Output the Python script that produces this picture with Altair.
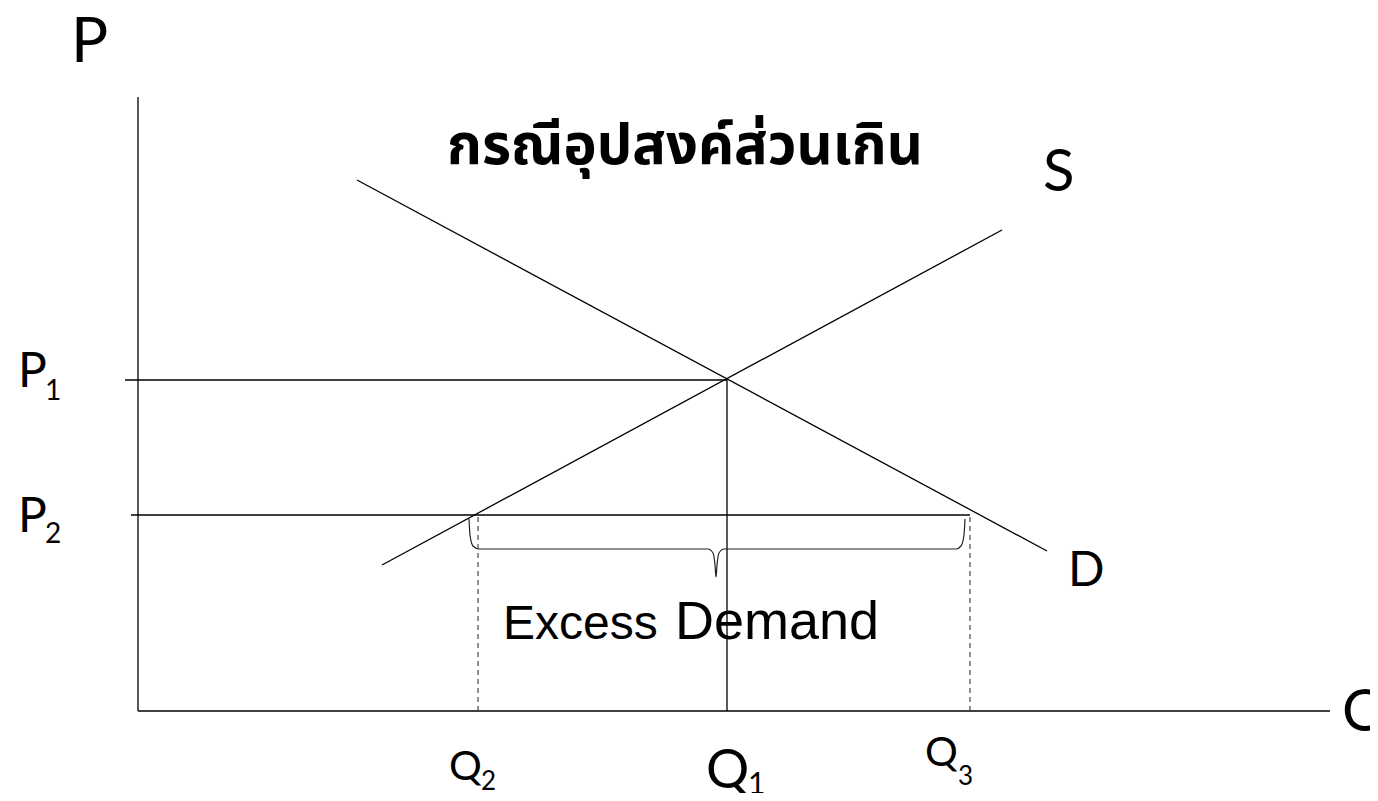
import altair as alt
import pandas as pd

# Economic coordinates (Q, P)
seg_x1 = [0.0, 0.0, 2.44, 2.19, -0.13, -0.07, 5.89]
seg_y1 = [0.0, 0.0, 1.46, 5.31, 3.31, 1.96, 0.0]
seg_x2 = [0.0, 11.92, 8.64, 9.09, 5.89, 8.32, 5.89]
seg_y2 = [6.14, 0.0, 4.81, 1.60, 3.31, 1.96, 3.31]

dash_x1 = [3.40, 8.32]
dash_y1 = [0.0, 0.0]
dash_x2 = [3.40, 8.32]
dash_y2 = [1.96, 1.96]

brace_q = [3.31, 3.32, 3.35, 3.41, 5.70, 5.75, 5.77, 5.78, 5.79, 5.81, 5.86, 8.18, 8.23, 8.26, 8.27]
brace_p = [1.92, 1.76, 1.65, 1.62, 1.62, 1.58, 1.46, 1.34, 1.46, 1.58, 1.62, 1.62, 1.65, 1.76, 1.92]

lab_text = ["P", "P", "1", "P", "2", "Q", "2", "Q", "1", "Q", "3", "Q", "S", "D"]
lab_q = [-0.67, -1.20, -0.93, -1.20, -0.93, 3.11, 3.43, 5.68, 6.10, 7.87, 8.20, 12.04, 9.05, 9.30]
lab_p = [6.49, 3.24, 3.11, 1.79, 1.68, -0.69, -0.79, -0.77, -0.83, -0.55, -0.74, -0.20, 5.20, 1.25]
lab_size = [62, 48, 28, 48, 28, 41, 26, 54, 30, 41, 26, 58, 58, 48]

title_text = ["กรณีอุปสงค์ส่วนเกิน"]
title_q = [3.09]
title_p = [5.47]

ed_text = ["Excess", "Demand"]
ed_q = [3.65, 5.37]
ed_p = [0.72, 0.72]
ed_size = [48, 54]

xs = alt.Scale(domain=[-1.30, 12.32], nice=False, zero=False)
ys = alt.Scale(domain=[-0.82, 7.03], nice=False, zero=False)
X = lambda f: alt.X(f, type="quantitative", scale=xs, axis=None)
Y = lambda f: alt.Y(f, type="quantitative", scale=ys, axis=None)

segs = pd.DataFrame({"x": seg_x1, "y": seg_y1, "x2": seg_x2, "y2": seg_y2})
dashes = pd.DataFrame({"x": dash_x1, "y": dash_y1, "x2": dash_x2, "y2": dash_y2})
brace = pd.DataFrame({"q": brace_q, "p": brace_p, "o": list(range(len(brace_q)))})
labs = pd.DataFrame({"t": lab_text, "q": lab_q, "p": lab_p, "s": lab_size})
title = pd.DataFrame({"t": title_text, "q": title_q, "p": title_p})
ed = pd.DataFrame({"t": ed_text, "q": ed_q, "p": ed_p, "s": ed_size})

solid = alt.Chart(segs).mark_rule(color="black", strokeWidth=1.3).encode(
    x=X("x"), y=Y("y"), x2="x2", y2="y2")
dashed = alt.Chart(dashes).mark_rule(color="#222222", strokeWidth=1, strokeDash=[5, 4]).encode(
    x=X("x"), y=Y("y"), x2="x2", y2="y2")
brace_l = alt.Chart(brace).mark_line(color="#222222", strokeWidth=1.2, interpolate="monotone").encode(
    x=X("q"), y=Y("p"), order="o:Q")
labels = alt.Chart(labs).mark_text(align="left", baseline="alphabetic", font="Lato", color="black").encode(
    x=X("q"), y=Y("p"), text="t:N", size=alt.Size("s:Q", scale=None, legend=None))
titles = alt.Chart(title).mark_text(align="left", baseline="alphabetic", font="Noto Sans Thai, Noto Sans, sans-serif",
                                     fontWeight="bold", fontSize=56, color="black").encode(
    x=X("q"), y=Y("p"), text="t:N")
edl = alt.Chart(ed).mark_text(align="left", baseline="alphabetic", font="Liberation Sans", color="black").encode(
    x=X("q"), y=Y("p"), text="t:N", size=alt.Size("s:Q", scale=None, legend=None))

chart = alt.layer(solid, dashed, brace_l, labels, titles, edl).properties(
    width=1362, height=785, padding=0, autosize=alt.AutoSizeParams(type="none")
).configure_view(stroke=None)

chart.save("out.html", embed_options={"renderer": "svg", "actions": False})
